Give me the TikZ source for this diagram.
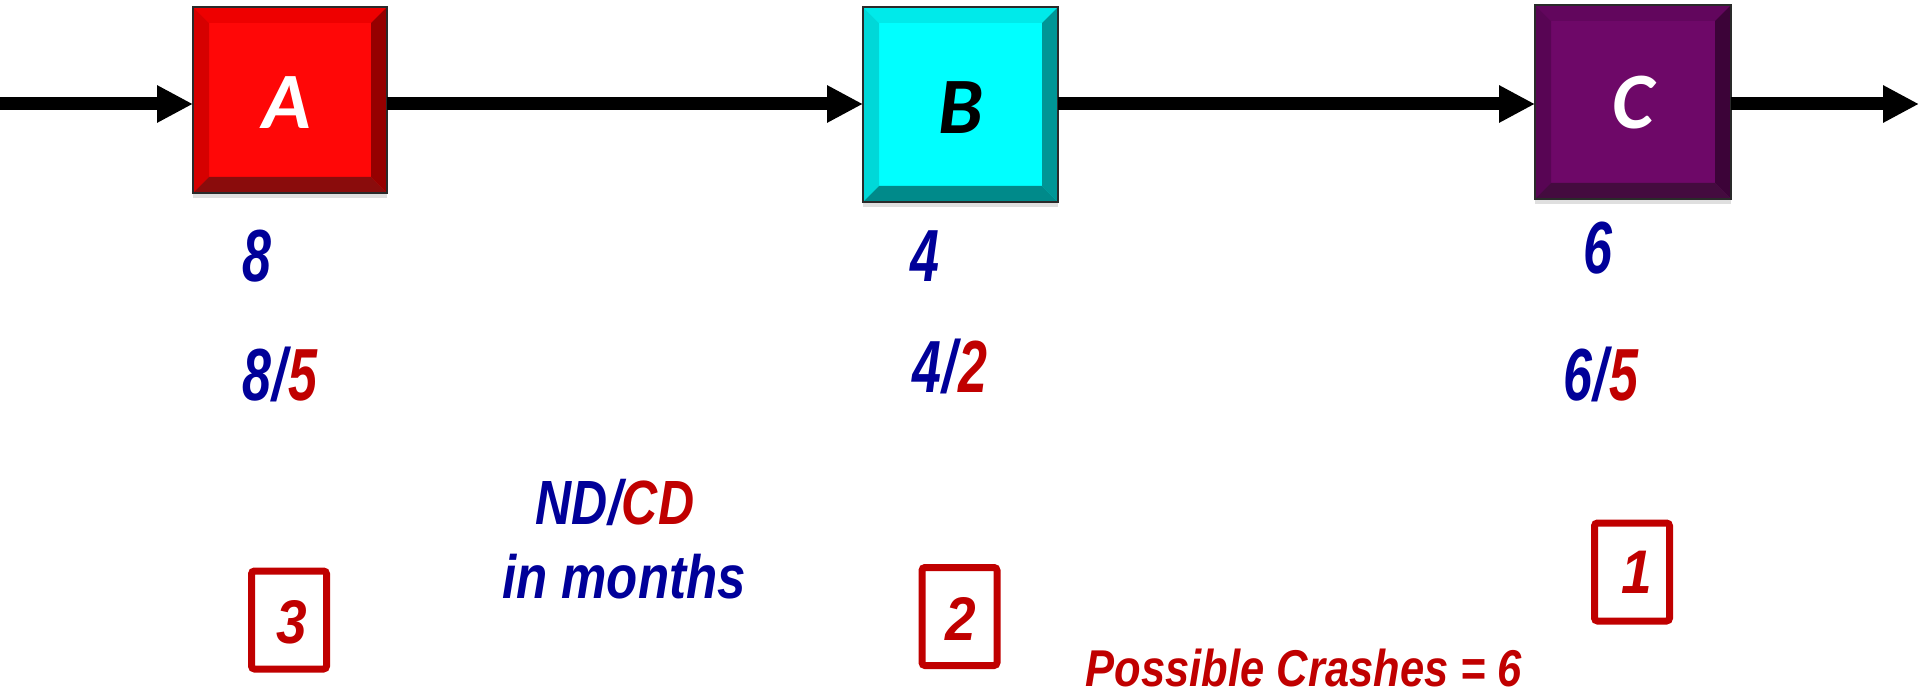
\documentclass[tikz,border=0pt]{standalone}
\usepackage{graphicx}
\usepackage{fontspec}
\setmainfont{Liberation Sans}
\newfontfamily\keyfont{Carlito}
\usetikzlibrary{arrows.meta,calc,shadows}

\definecolor{numblue}{HTML}{000099}
\definecolor{numred}{HTML}{C00000}
\definecolor{edgegray}{HTML}{2A2A2A}
% key box colours: face, left, top, right, bottom
\definecolor{aFace}{RGB}{255,7,7}
\definecolor{aLeft}{RGB}{214,0,0}
\definecolor{aTop}{RGB}{238,0,0}
\definecolor{aRight}{RGB}{150,0,0}
\definecolor{aBottom}{RGB}{138,12,12}
\definecolor{bFace}{RGB}{0,255,255}
\definecolor{bLeft}{RGB}{0,216,216}
\definecolor{bTop}{RGB}{0,234,234}
\definecolor{bRight}{RGB}{0,150,150}
\definecolor{bBottom}{RGB}{0,138,138}
\definecolor{cFace}{RGB}{110,8,104}
\definecolor{cLeft}{RGB}{88,5,84}
\definecolor{cTop}{RGB}{98,6,93}
\definecolor{cRight}{RGB}{60,3,56}
\definecolor{cBottom}{RGB}{68,11,63}

% vertically stretched bold italic text
\newcommand\tallbi[3]{\scalebox{1}[#2]{\fontsize{#1}{#1}\selectfont\bfseries\itshape #3}}

\newlength\bevw
\setlength\bevw{16pt}
% bevelled faces of a key box: node, left, top, right, bottom colours
\newcommand\bevelfaces[5]{%
  \fill[#2] (#1.north west) -- (#1.south west) -- ($(#1.south west)+(\bevw,\bevw)$) -- ($(#1.north west)+(\bevw,-\bevw)$) -- cycle;
  \fill[#3] (#1.north west) -- (#1.north east) -- ($(#1.north east)+(-\bevw,-\bevw)$) -- ($(#1.north west)+(\bevw,-\bevw)$) -- cycle;
  \fill[#4] (#1.north east) -- (#1.south east) -- ($(#1.south east)+(-\bevw,\bevw)$) -- ($(#1.north east)+(-\bevw,-\bevw)$) -- cycle;
  \fill[#5] (#1.south west) -- (#1.south east) -- ($(#1.south east)+(-\bevw,\bevw)$) -- ($(#1.south west)+(\bevw,\bevw)$) -- cycle;
  \draw[edgegray, line width=2pt] (#1.north west) rectangle (#1.south east);
}

\begin{document}
\begin{tikzpicture}[x=1pt,y=-1pt,
  keybox/.style={inner sep=0pt, outer sep=0pt,
    drop shadow={shadow xshift=0pt, shadow yshift=-5pt, opacity=0.25}},
  keylabel/.style={inner sep=0pt, font=\keyfont\bfseries\itshape\fontsize{80}{80}\selectfont},
  flow/.style={line width=13pt, -{Triangle[length=36pt,width=35pt]}},
  rankbox/.style={draw=numred, line width=7pt, rounded corners=3pt,
    minimum width=75pt, minimum height=98pt, inner sep=0pt},
  plain/.style={inner sep=0pt, text=numblue}
]
\useasboundingbox (0,0) rectangle (1920,695);

% activity boxes
\node[keybox, fill=aFace, minimum width=194pt, minimum height=186pt] (A) at (290,100) {};
\node[keybox, fill=bFace, minimum width=195pt, minimum height=195pt] (B) at (960.5,104.5) {};
\node[keybox, fill=cFace, minimum width=196pt, minimum height=194pt] (C) at (1633,102) {};

\bevelfaces{A}{aLeft}{aTop}{aRight}{aBottom}
\bevelfaces{B}{bLeft}{bTop}{bRight}{bBottom}
\bevelfaces{C}{cLeft}{cTop}{cRight}{cBottom}

\node[keylabel, text=white] (Alab) at (287,103) {A};
\node[keylabel, text=black] (Blab) at (961,108) {B};
\node[keylabel, text=white] (Clab) at (1633,103) {C};

% flow arrows
\coordinate (in) at (0,104);
\coordinate (out) at (1919,104);
\draw[flow] (in) -- (in -| A.west);
\draw[flow] (A.east |- in) -- (B.west |- in);
\draw[flow] (B.east |- in) -- (C.west |- in);
\draw[flow] (C.east |- in) -- (out);

% normal durations
\node[plain] (nA) at (257,256) {\tallbi{52}{1.42}{8}};
\node[plain] (nB) at (925,256) {\tallbi{52}{1.42}{4}};
\node[plain] (nC) at (1598,248) {\tallbi{52}{1.42}{6}};

% normal / crash durations
\node[plain] (cA) at (280,374) {\tallbi{52}{1.42}{8\kern1pt/\kern1pt\textcolor{numred}{5}}};
\node[plain] (cB) at (950,366) {\tallbi{52}{1.42}{4\kern1pt/\kern1pt\textcolor{numred}{2}}};
\node[plain] (cC) at (1601,374) {\tallbi{52}{1.42}{6\kern1pt/\kern1pt\textcolor{numred}{5}}};

% legend
\node[plain] (lg1) at (615,502) {\tallbi{50}{1.25}{ND/\textcolor{numred}{CD}}};
\node[plain] (lg2) at (624,577) {\tallbi{51}{1.2}{in months}};

% crash order
\node[rankbox] (rA) at (289,620) {};
\node[rankbox] (rB) at (959.5,616.5) {};
\node[rankbox] (rC) at (1632,572) {};
\node[inner sep=0pt, text=numred] (kA) at (292,622) {\tallbi{55}{1.12}{3}};
\node[inner sep=0pt, text=numred] (kB) at (961,619) {\tallbi{55}{1.12}{2}};
\node[inner sep=0pt, text=numred] (kC) at (1637,572) {\tallbi{55}{1.12}{1}};

% total
\node[inner sep=0pt, text=numred] (tot) at (1304,668) {\tallbi{43.5}{1.19}{Possible Crashes = 6}};
\end{tikzpicture}
\end{document}
